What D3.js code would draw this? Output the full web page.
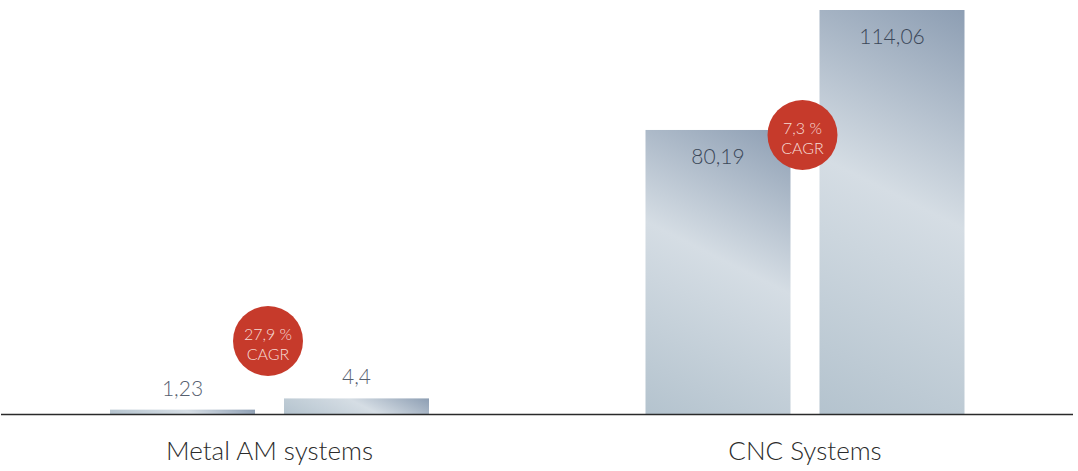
<!DOCTYPE html>
<html><head><meta charset="utf-8">
<script src="https://cdn.jsdelivr.net/npm/d3@7"></script>
<style>
html,body{margin:0;padding:0;background:#fff;}
svg{display:block;font-family:Lato,"Open Sans",sans-serif;}
</style></head>
<body>
<svg id="chart" width="1078" height="471"></svg>
<script>
const categories = ["Metal AM systems", "CNC Systems"];
const years = ["start", "end"];
const values = [[1.23, 4.4], [80.19, 114.06]];
const valueLabels = [["1,23", "4,4"], ["80,19", "114,06"]];
const cagrLabels = ["27,9 %", "7,3 %"];

const W = 1078, H = 471;
const baseY = 414;
const svg = d3.select("#chart");
const defs = svg.append("defs");

const xGroup = d3.scalePoint().domain(categories).range([269.5, 805]);
const xInner = d3.scaleBand().domain(years).range([-159.5, 159.5]).paddingInner(29 / 174);
const y = d3.scaleLinear().domain([0, 114.06]).range([baseY, 10]);

categories.forEach((cat, ci) => {
  const gx = xGroup(cat);
  const g = svg.append("g").attr("transform", `translate(${gx},0)`);
  years.forEach((yr, yi) => {
    const v = values[ci][yi];
    const x0 = xInner(yr), bw = xInner.bandwidth();
    const top = y(v), h = baseY - top;
    const L = (0.5 * bw + h) / 1.25;
    const id = `grad${ci}${yi}`;
    const gr = defs.append("linearGradient").attr("id", id)
      .attr("gradientUnits", "userSpaceOnUse")
      .attr("x1", x0 + bw).attr("y1", top)
      .attr("x2", x0 + bw - 0.5 * L).attr("y2", top + L);
    gr.append("stop").attr("offset", "0%").attr("stop-color", "#8d9eb3");
    gr.append("stop").attr("offset", "46%").attr("stop-color", "#d5dde4");
    gr.append("stop").attr("offset", "100%").attr("stop-color", "#b4c3ce");
    g.append("rect").attr("x", x0).attr("y", top).attr("width", bw).attr("height", h)
      .attr("fill", `url(#${id})`);
    const inside = h > 60;
    g.append("text")
      .attr("x", x0 + bw / 2)
      .attr("y", inside ? top + 34 : top - 14)
      .attr("text-anchor", "middle")
      .attr("font-size", 21).attr("font-weight", 300)
      .attr("fill", inside ? "#3b4758" : "#56606f")
      .text(valueLabels[ci][yi]);
  });
  // CAGR bubble
  const cy = ci === 0 ? 341 : 135;
  const cxOff = ci === 0 ? -1.5 : -2.5;
  g.append("circle").attr("cx", cxOff).attr("cy", cy).attr("r", 35).attr("fill", "#c63a2b");
  g.append("text").attr("x", cxOff).attr("y", cy - 1).attr("text-anchor", "middle")
    .attr("font-size", 16).attr("font-weight", 300).attr("fill", "#f6dcd6").text(cagrLabels[ci]);
  g.append("text").attr("x", cxOff).attr("y", cy + 19).attr("text-anchor", "middle")
    .attr("font-size", 16).attr("font-weight", 300).attr("fill", "#f6dcd6").text("CAGR");
  g.append("text").attr("x", 0).attr("y", 460).attr("text-anchor", "middle")
    .attr("font-size", 26).attr("font-weight", 300).attr("fill", "#2b2b2b").text(cat);
});

svg.append("line").attr("x1", 1).attr("x2", 1073).attr("y1", baseY + 0.5).attr("y2", baseY + 0.5)
  .attr("stroke", "#2a2a2a").attr("stroke-width", 1.6);
</script>
</body></html>
